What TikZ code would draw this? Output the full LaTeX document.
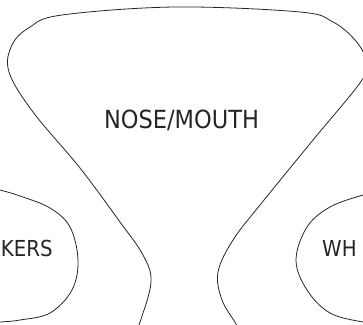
\documentclass[tikz,border=0pt]{standalone}
\usepackage{fontspec}
\setmainfont{DejaVu Sans}
\newfontfamily\labfont[FakeStretch=0.9]{DejaVu Sans}
\begin{document}
\begin{tikzpicture}[x=1pt,y=-1pt,
  outline/.style={draw=black!85, line width=0.8pt},
  biglabel/.style={font=\labfont\fontsize{25}{30}\selectfont, text=black!85, inner sep=0pt},
  sidelabel/.style={font=\labfont\fontsize{22}{26}\selectfont, text=black!85, inner sep=0pt}]
\useasboundingbox (0,0) rectangle (363,324);
\clip (0,0) rectangle (363,324);
% main shape
\draw[outline] plot[smooth, tension=0.6] coordinates {
  (133,338) (140,322) (151,282) (143,255) (120,222) (80,168) (33,112)
  (9,72) (12,45) (30,27) (62,15) (175,7) (300,12) (333,22) (355,40)
  (366,60) (362,80) (313,140) (260,205) (233,240) (218,272) (222,300)
  (236,324) (242,338)};
% left lobe
\draw[outline] plot[smooth, tension=0.6] coordinates {
  (-10,188) (0,190) (20,196) (50,208) (70,227) (78,260) (72,290)
  (50,313) (20,320) (0,322) (-10,322)};
% right lobe
\draw[outline] plot[smooth, tension=0.6] coordinates {
  (375,193) (363,195) (330,207) (307,227) (296,260) (307,290)
  (330,313) (363,322) (375,322)};
\node[biglabel, anchor=base] (nm) at (181.5,128) {NOSE/MOUTH};
\node[sidelabel, anchor=base east] (lk) at (53,256) {KERS};
\node[sidelabel, anchor=base west] (rw) at (322,256) {WH};
\end{tikzpicture}
\end{document}
